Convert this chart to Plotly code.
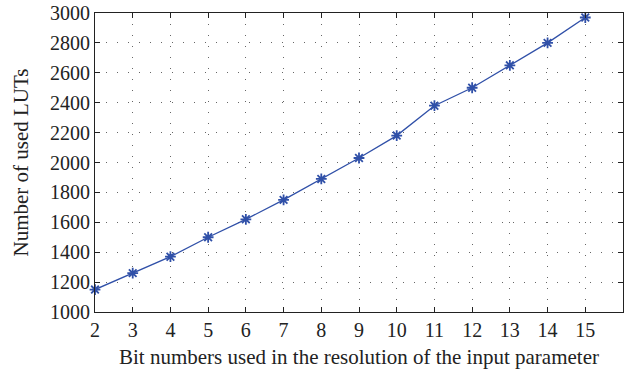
import plotly.graph_objects as go

bits = [2, 3, 4, 5, 6, 7, 8, 9, 10, 11, 12, 13, 14, 15]
luts = [1150, 1260, 1370, 1500, 1620, 1750, 1890, 2030, 2180, 2380, 2500, 2650, 2800, 2970]
x_ticks = list(range(2, 16))
y_ticks = list(range(1000, 3001, 200))

color = "#3050a8"
fig = go.Figure()
fig.add_trace(go.Scatter(
    x=bits, y=luts, mode="lines+markers",
    line=dict(color=color, width=1.3),
    marker=dict(symbol="asterisk-open", size=9, line=dict(color=color, width=1.8)),
    showlegend=False, cliponaxis=False,
))

tick_font = dict(family="Liberation Serif", size=20, color="#222")
title_font = dict(family="Liberation Serif", size=21, color="#222")
axis_common = dict(
    showline=True, linecolor="#222", linewidth=1.2, mirror="ticks",
    ticks="inside", ticklen=5, tickcolor="#222",
    showgrid=True, gridcolor="#666", griddash="1px,10px", gridwidth=1,
    zeroline=False, tickfont=tick_font, automargin=False,
)
fig.update_layout(
    width=635, height=374,
    margin=dict(l=95, r=12, t=13, b=62),
    paper_bgcolor="white", plot_bgcolor="white",
    font=tick_font,
    xaxis=dict(range=[2, 16], tickvals=x_ticks, title=dict(text="Bit numbers used in the resolution of the input parameter", font=title_font, standoff=9), **axis_common),
    yaxis=dict(range=[1000, 3000], tickvals=y_ticks, title=dict(text="Number of used LUTs", font=title_font, standoff=15), **axis_common),
)
fig.write_html("out.html")
